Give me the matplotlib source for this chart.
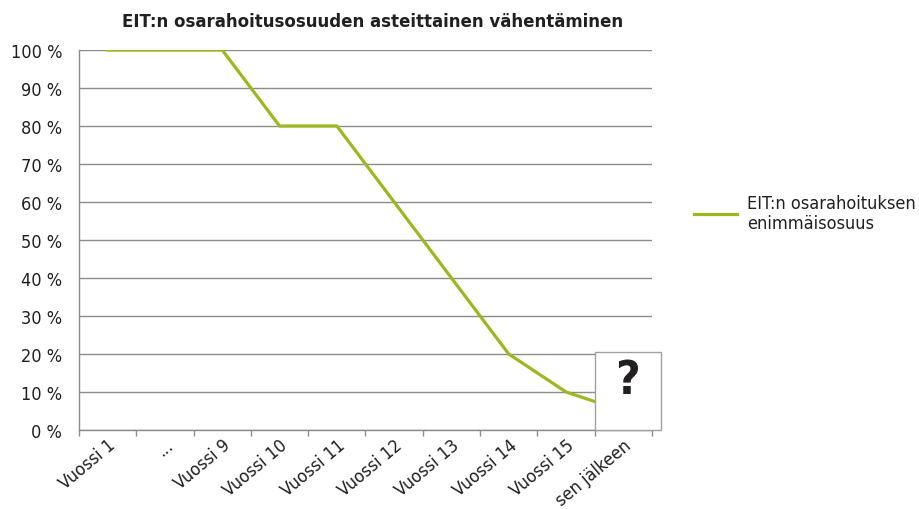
import matplotlib.pyplot as plt
from matplotlib.patches import Rectangle

plt.rcParams['font.family'] = ['DejaVu Sans']
plt.rcParams['font.stretch'] = 'condensed'

categories = ['Vuossi 1', '...', 'Vuossi 9', 'Vuossi 10', 'Vuossi 11', 'Vuossi 12',
              'Vuossi 13', 'Vuossi 14', 'Vuossi 15', 'sen jälkeen']
share = [100, 100, 100, 80, 80, 60, 40, 20, 10, 5]
yticks = [0, 10, 20, 30, 40, 50, 60, 70, 80, 90, 100]
series_label = 'EIT:n osarahoituksen\nenimmäisosuus'
title = 'EIT:n osarahoitusosuuden asteittainen vähentäminen'

line_color = '#a0b61f'
grid_color = '#8c8c8c'
text_color = '#231f20'

fig = plt.figure(figsize=(9.2, 5.1), dpi=100)
ax = fig.add_axes([79 / 920, 1 - 431 / 510, (652 - 79) / 920, 380 / 510])

x = list(range(len(categories)))
ax.plot(x, share, color=line_color, lw=2.3, solid_joinstyle='miter',
        label=series_label, zorder=3)

ax.set_xlim(-0.5, len(categories) - 0.5)
ax.set_ylim(0, 100)
ax.set_yticks(yticks)
ax.set_yticklabels([f'{v} %' for v in yticks], fontsize=13, color=text_color)
ax.tick_params(axis='y', length=0, pad=12)
ax.yaxis.grid(True, color=grid_color, lw=1)
ax.set_axisbelow(True)

ax.set_xticks(x)
ax.set_xticklabels(categories, fontsize=13, color=text_color, rotation=40,
                   ha='right', rotation_mode='anchor')
ax.tick_params(axis='x', which='major', length=0, pad=4)
ax.set_xticks([i - 0.5 for i in range(len(categories) + 1)], minor=True)
ax.tick_params(axis='x', which='minor', length=4, color=grid_color, width=1)

for side in ['top', 'right']:
    ax.spines[side].set_visible(False)
for side in ['left', 'bottom']:
    ax.spines[side].set_color(grid_color)
    ax.spines[side].set_linewidth(1)

# box with the question mark over the last segment
ax.add_patch(Rectangle((len(categories) - 1.5, 0), 1.16, 20.5, facecolor='white',
                       edgecolor='#a0a0a0', lw=1, clip_on=False, zorder=4))
ax.text(len(categories) - 0.92, 13, '?', fontsize=34, fontweight='bold',
        color=text_color, ha='center', va='center', zorder=5)

fig.text(373 / 920, 1 - 22 / 510, title, fontsize=13.3, fontweight='bold',
         color=text_color, ha='center', va='center')

ax.legend(loc='center left', bbox_to_anchor=(694 / 920, 1 - 214 / 510),
          bbox_transform=fig.transFigure, frameon=False, fontsize=13,
          handlelength=2.4, handletextpad=0.55, borderpad=0, borderaxespad=0,
          labelcolor=text_color)

plt.savefig('out.png', dpi=100)
plt.close()
